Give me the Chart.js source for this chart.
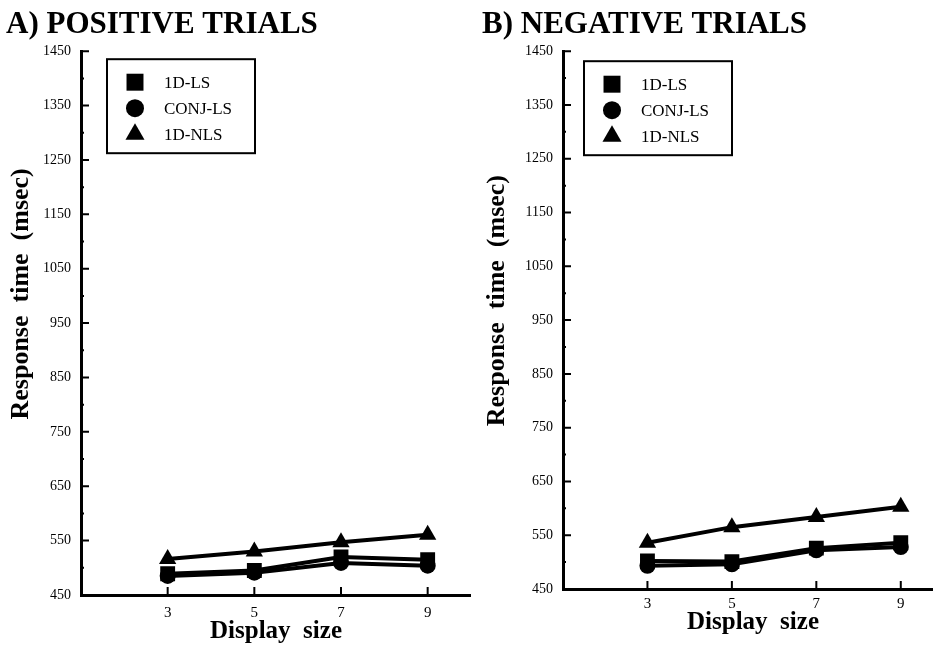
<!DOCTYPE html>
<html>
<head>
<meta charset="utf-8">
<script src="https://cdn.jsdelivr.net/npm/chart.js"></script>
<style>
  html, body { margin: 0; padding: 0; background: #fff; overflow: hidden; }
  body { width: 933px; height: 660px; position: relative; }
  canvas { position: absolute; top: 0; }
</style>
</head>
<body>
<canvas id="posChart" width="471" height="660" style="left:0"></canvas>
<canvas id="negChart" width="477" height="660" style="left:466px"></canvas>
<script>
const displaySizes = [3, 5, 7, 9];
const seriesNames = ["1D-LS", "CONJ-LS", "1D-NLS"];
const seriesMarkers = ["rect", "circle", "triangle"];

// positive trials (msec)
const pos1DLS = [489, 495, 520, 515];
const posConjLS = [485, 491, 509, 504];
const pos1DNLS = [516, 530, 547, 561];

// negative trials (msec)
const neg1DLS = [502, 501, 526, 536];
const negConjLS = [493, 496, 522, 528];
const neg1DNLS = [536, 565, 584, 603];

const yMin = 450, yMax = 1450;

Chart.defaults.font.family = "'Liberation Serif', 'Times New Roman', serif";
Chart.defaults.color = "#000";

const markerRadius = [10.5, 8, 10];

// inward tick marks on both axes
const axisTicks = {
    id: "axisTicks",
    afterDraw(chart) {
        const { ctx, chartArea, scales } = chart;
        ctx.save();
        ctx.strokeStyle = "#000";
        ctx.lineWidth = 2;
        ctx.beginPath();
        scales.y.ticks.forEach(t => {
            const py = scales.y.getPixelForValue(t.value);
            const len = (t.value - yMin) % 100 === 0 ? 8 : 3;
            ctx.moveTo(chartArea.left, py);
            ctx.lineTo(chartArea.left + len, py);
        });
        scales.x.ticks.forEach(t => {
            const px = scales.x.getPixelForValue(t.value);
            ctx.moveTo(px, chartArea.bottom);
            ctx.lineTo(px, chartArea.bottom - 8);
        });
        ctx.stroke();
        ctx.restore();
    }
};

// boxed legend inside the plot
const boxLegend = {
    id: "boxLegend",
    afterDraw(chart, args, opts) {
        const { ctx, chartArea } = chart;
        const bx = chartArea.left + opts.x;
        const by = chartArea.top + opts.y;
        ctx.save();
        ctx.strokeStyle = "#000";
        ctx.lineWidth = 2;
        ctx.strokeRect(bx, by, opts.w, opts.h);
        ctx.fillStyle = "#000";
        ctx.font = "17px 'Liberation Serif', serif";
        ctx.textBaseline = "middle";
        chart.data.datasets.forEach((ds, i) => {
            const cy = by + opts.rows[i];
            Chart.helpers.drawPoint(ctx, {
                pointStyle: ds.pointStyle,
                radius: opts.radius[i],
                rotation: 0,
                borderWidth: 0
            }, bx + opts.markX, cy);
            ctx.fillStyle = "#000";
            ctx.fillText(ds.label, bx + opts.textX, cy + 1);
        });
        ctx.restore();
    }
};

function makePanel(id, title, values, cfg) {
    const datasets = values.map((data, i) => ({
        label: seriesNames[i],
        data: displaySizes.map((x, j) => ({ x: x, y: data[j] })),
        borderColor: "#000",
        backgroundColor: "#000",
        borderWidth: 4,
        pointStyle: seriesMarkers[i],
        pointRadius: markerRadius[i],
        pointBorderWidth: 0,
        tension: 0
    }));
    // leading spaces nudge the rotated label up, as in the scan
    const yTitle = " ".repeat(cfg.yTitleShift) + "Response  time  (msec)";
    return new Chart(document.getElementById(id).getContext("2d"), {
        type: "line",
        data: { datasets: datasets },
        plugins: [axisTicks, boxLegend],
        options: {
            responsive: false,
            animation: false,
            layout: { autoPadding: false, padding: { left: cfg.padLeft, right: 0, top: 0, bottom: 0 } },
            plugins: {
                legend: { display: false },
                tooltip: { enabled: false },
                title: {
                    display: true,
                    text: title,
                    align: "start",
                    color: "#000",
                    font: { size: 31, weight: "bold" },
                    padding: { top: 6, bottom: 8 }
                },
                boxLegend: {
                    x: cfg.legendX, y: cfg.legendY, w: 148, h: 94,
                    rows: [23, 49, 75], markX: 28, textX: 57,
                    radius: [12, 9, 11]
                }
            },
            scales: {
                x: {
                    type: "linear",
                    min: 1,
                    max: 10,
                    afterBuildTicks: scale => {
                        scale.ticks = displaySizes.map(v => ({ value: v }));
                    },
                    afterFit: scale => { scale.height = cfg.xHeight; },
                    grid: { display: false, drawTicks: false },
                    border: { display: true, color: "#000", width: 3 },
                    ticks: { padding: cfg.xTickPad, font: { size: 15 }, color: "#000" },
                    title: {
                        display: true,
                        text: "Display  size",
                        font: { size: 25, weight: "bold" },
                        color: "#000",
                        padding: { top: 0, bottom: cfg.xTitlePad }
                    }
                },
                y: {
                    min: yMin,
                    max: yMax,
                    afterFit: scale => { scale.width = cfg.yWidth; },
                    grid: { display: false, drawTicks: false },
                    border: { display: true, color: "#000", width: 3 },
                    ticks: {
                        stepSize: 50,
                        padding: 10,
                        font: { size: 14 },
                        color: "#000",
                        callback: v => ((v - yMin) % 100 === 0 ? v : "")
                    },
                    title: {
                        display: true,
                        text: yTitle,
                        font: { size: 26, weight: "bold" },
                        color: "#000",
                        padding: { top: 0, bottom: 0 }
                    }
                }
            }
        }
    });
}

makePanel("posChart", "A) POSITIVE TRIALS", [pos1DLS, posConjLS, pos1DNLS], {
    padLeft: 6, yWidth: 75, xHeight: 65, xTickPad: 9, xTitlePad: 13,
    legendX: 26, legendY: 8, yTitleShift: 9
});

makePanel("negChart", "B) NEGATIVE TRIALS", [neg1DLS, negConjLS, neg1DNLS], {
    padLeft: 16, yWidth: 81, xHeight: 71, xTickPad: 6, xTitlePad: 22,
    legendX: 21, legendY: 10, yTitleShift: 6
});
</script>
</body>
</html>
